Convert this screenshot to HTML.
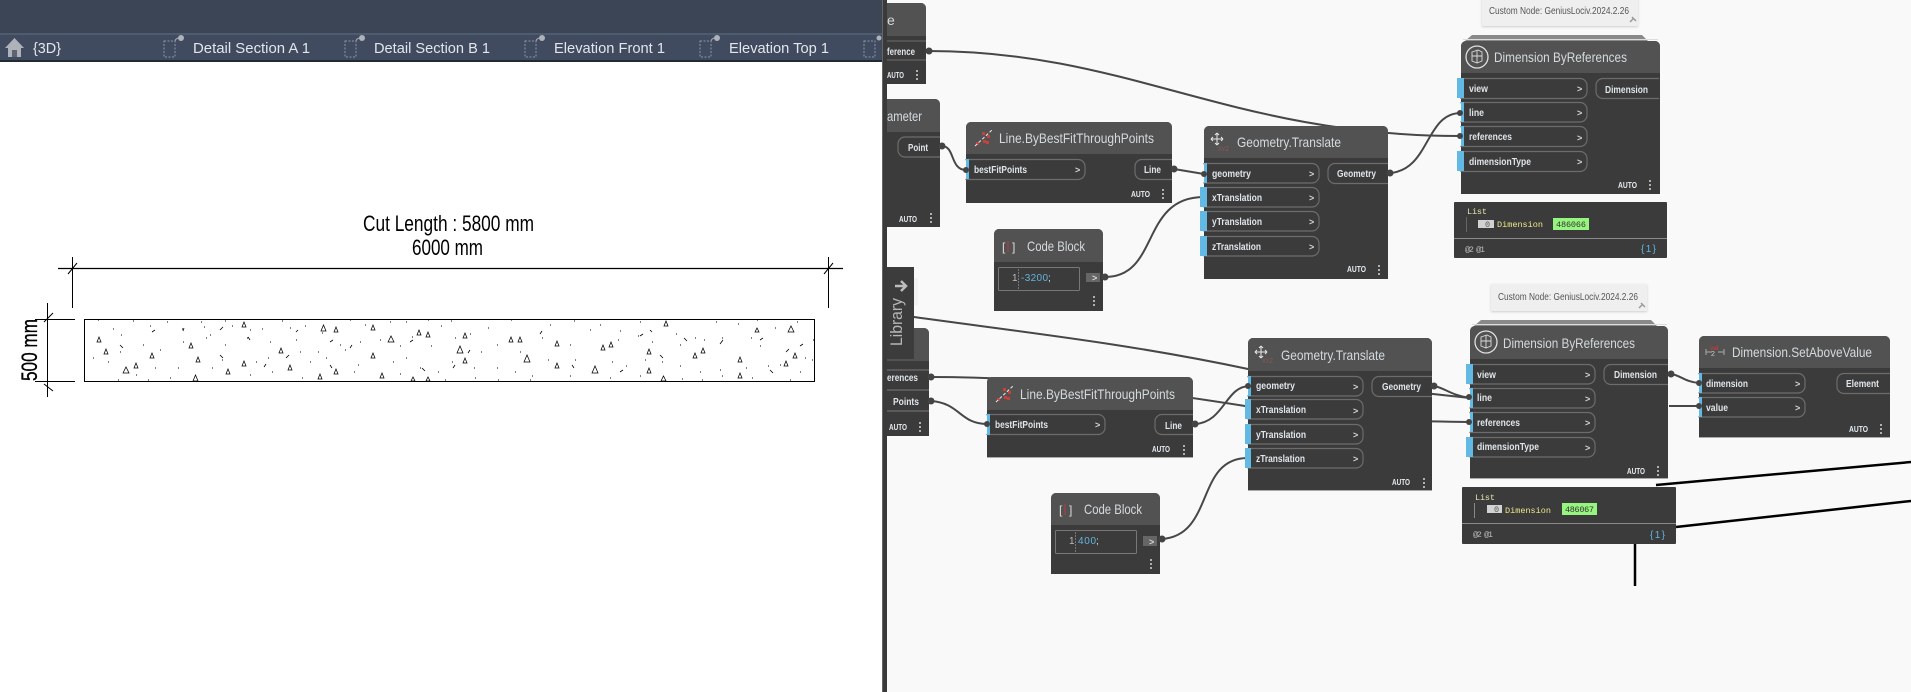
<!DOCTYPE html>
<html><head><meta charset="utf-8"><style>
html,body{margin:0;padding:0;background:#fff;width:1911px;height:692px;overflow:hidden}
svg{display:block}
text{font-family:"Liberation Sans",sans-serif}
.b{fill:#3b3b3b}.h{fill:#525252}
.p{fill:none;stroke:#6c6c6c;stroke-width:1.2}
.bl{fill:#62b9e4}
.t{fill:#d4dade;font-size:14px}
.l{fill:#dfe5ea;font-size:10px;font-weight:bold}
.a{fill:#e6ecf2;font-size:8.5px;font-weight:bold}
.g{fill:#d5d5d5;font-size:9px;font-weight:bold}
.d{fill:#b0b0b0}
.w{fill:none;stroke:#474747;stroke-width:2}
.n{fill:#444}
.m{font-family:"Liberation Mono",monospace;font-size:8.5px}
.tab{fill:#e2e6ec;font-size:15px}
.ti{fill:none;stroke:#8b95a5;stroke-width:1;stroke-dasharray:2 1.5}
</style></head><body>
<svg xmlns="http://www.w3.org/2000/svg" width="1911" height="692" viewBox="0 0 1911 692">
<rect width="1911" height="692" fill="#fff"/>
<rect x="887" width="1024" height="692" fill="#f9f9f9"/>
<!-- left header -->
<rect width="882" height="33" fill="#3b4555"/>
<rect y="33" width="882" height="2" fill="#4f5b6e"/>
<rect y="35" width="882" height="25" fill="#404b5f"/>
<rect y="60" width="882" height="2" fill="#222a35"/>
<polygon points="5,48 14.500,38 24,48 21,48 21,57 8,57 8,48" fill="#aeb3ba"/>
<rect x="12" y="50" width="5" height="7" fill="#5d6470"/>
<text class="tab" x="33" y="53" textLength="28" lengthAdjust="spacingAndGlyphs">{3D}</text>
<g><rect class="ti" x="164" y="41" width="11" height="16"/><circle cx="181" cy="38" r="3" fill="#aeb3ba"/><path d="M175 41 q1 -3 4 -3" stroke="#aeb3ba" fill="none"/></g>
<text class="tab" x="193" y="53" textLength="117" lengthAdjust="spacingAndGlyphs">Detail Section A 1</text>
<g><rect class="ti" x="345" y="41" width="11" height="16"/><circle cx="362" cy="38" r="3" fill="#aeb3ba"/><path d="M356 41 q1 -3 4 -3" stroke="#aeb3ba" fill="none"/></g>
<text class="tab" x="374" y="53" textLength="116" lengthAdjust="spacingAndGlyphs">Detail Section B 1</text>
<g><rect class="ti" x="525" y="41" width="11" height="16"/><circle cx="542" cy="38" r="3" fill="#aeb3ba"/><path d="M536 41 q1 -3 4 -3" stroke="#aeb3ba" fill="none"/></g>
<text class="tab" x="554" y="53" textLength="111" lengthAdjust="spacingAndGlyphs">Elevation Front 1</text>
<g><rect class="ti" x="700" y="41" width="11" height="16"/><circle cx="717" cy="38" r="3" fill="#aeb3ba"/><path d="M711 41 q1 -3 4 -3" stroke="#aeb3ba" fill="none"/></g>
<text class="tab" x="729" y="53" textLength="100" lengthAdjust="spacingAndGlyphs">Elevation Top 1</text>
<g><rect class="ti" x="864" y="41" width="11" height="16"/><circle cx="879" cy="38" r="2.500" fill="#aeb3ba"/></g>
<!-- drawing -->
<text x="363" y="231" font-size="22" fill="#000" textLength="171" lengthAdjust="spacingAndGlyphs">Cut Length : 5800 mm</text>
<text x="412" y="255" font-size="22" fill="#000" textLength="71" lengthAdjust="spacingAndGlyphs">6000 mm</text>
<g stroke="#000" fill="none" stroke-width="1">
<path d="M58 268.500H843" stroke-width="1.300"/>
<path d="M72.500 257V308M828.500 257V308M68 274L77 263M824 274L833 263"/>
<path d="M47.500 303V397M35 319.500H75M35 381.500H75M44 322L53 313M44 384L53 391" />
<rect x="84.500" y="319.500" width="730" height="62"/>
</g>
<text transform="translate(37,381) rotate(-90)" font-size="22" fill="#000" stroke="#000" stroke-width=".3" textLength="62" lengthAdjust="spacingAndGlyphs">500 mm</text>
<!-- hatch triangles -->
<path fill="none" stroke="#000" stroke-width=".75" d="M321 331l2.500 -6l2.500 6zM334 332l2 -5l2 5zM371 330l2 -5l2 5zM417 335l2 -5l2 5zM426 337l2 -5l2 5zM388 342l3 -6l3 6zM463 338l2 -5l2 5zM457 353l3 -7l3 7zM509 342l2 -5l2 5zM518 342l2 -5l2 5zM555 346l2 -5l2 5zM601 350l2 -5l2 5zM609 347l2 -5l2 5zM647 354l2 -5l2 5zM693 358l2 -5l2 5zM701 353l2 -5l2 5zM738 362l2 -5l2 5zM793 358l2 -5l2 5zM784 366l2 -5l2 5zM788 332l3 -6l3 6zM755 332l2 -4l2 4zM664 326l2 -5l2 5zM242 327l2 -5l2 5zM97 342l2 -5l2 5zM104 354l2 -5l2 5zM150 358l2 -5l2 5zM189 348l2 -5l2 5zM196 362l2 -5l2 5zM123 373l3 -6l3 6zM134 368l2 -5l2 5zM242 366l2 -5l2 5zM226 374l2 -5l2 5zM288 370l2 -5l2 5zM279 353l2 -5l2 5zM371 358l2 -5l2 5zM334 374l2 -5l2 5zM318 379l2 -5l2 5zM380 378l2 -5l2 5zM463 363l2 -5l2 5zM524 362l3 -7l3 7zM555 368l2 -5l2 5zM592 373l3 -7l3 7zM647 373l2 -5l2 5zM738 378l2 -5l2 5zM193 381l2.500 -6l2.500 6zM411 381l2 -4l2 4zM426 381l2 -4l2 4zM661 381l2.500 -5l2.500 5z"/>
<!-- hatch dots -->
<path fill="none" stroke="#000" stroke-width="1" d="M98 320h1M113 329h1M121 335h1M133 321h1M150 326h1M167 322h1M182 329h1M201 322h1M204 327h1M210 335h1M225 321h1M232 326h1M250 330h1M262 329h1M282 321h1M290 328h1M305 326h1M322 333h1M350 320h1M365 325h1M390 322h1M406 322h1M412 337h1M428 320h1M441 326h1M451 321h1M470 334h1M488 328h1M511 320h1M550 325h1M574 321h1M600 325h1M620 331h1M640 322h1M676 334h1M695 338h1M716 322h1M738 324h1M757 320h1M775 328h1M797 322h1M813 340h1M805 358h1M780 365h1M760 346h1M751 338h1M722 338h1M704 340h1M680 345h1M652 342h1M638 336h1M618 340h1M590 330h1M570 345h1M542 338h1M520 352h1M497 345h1M481 352h1M455 338h1M431 346h1M400 346h1M380 340h1M360 342h1M340 345h1M318 352h1M296 340h1M270 342h1M247 338h1M225 345h1M206 338h1M183 342h1M160 350h1M143 345h1M120 352h1M93 358h1M108 362h1M136 375h1M155 368h1M178 368h1M212 368h1M222 360h1M256 362h1M268 358h1M300 352h1M310 362h1M326 358h1M345 350h1M358 365h1M393 362h1M406 358h1M420 368h1M438 372h1M452 362h1M474 368h1M497 368h1M515 372h1M532 376h1M548 360h1M575 360h1M612 362h1M626 366h1M645 360h1M662 362h1M680 366h1M700 372h1M720 370h1M746 368h1M768 366h1M800 372h1M812 360h1M118 380h1M148 380h1M170 378h1M250 375h1M272 372h1M302 378h1M354 372h1M400 374h1M445 380h1M475 378h1M498 380h1M530 380h1M570 376h1M610 378h1M640 376h1M682 379h1M702 380h1M722 376h1M752 378h1M790 380h1"/>
<path fill="none" stroke="#000" stroke-width=".8" d="M152 332l3 -2M184 328l-1 3M220 330l3 -3M248 337l2 3M296 332l2 -2M330 342l3 -2M352 345l-2 3M410 342l3 -2M470 350l-2 3M540 334l2 -3M640 336l3 -2M650 330l2 2M684 338l3 3M720 344l3 -4M760 340l3 -2M786 352l3 -3M264 367l2 -3M330 365l2 3M422 368l3 3M455 365l-2 3M572 365l2 3M620 372l3 -2M660 355l3 3M770 370l3 3M800 346l3 -2M120 345l3 3M220 355l3 3M286 358l3 -3"/>
<!-- wires -->
<path class="w" d="M928 51C1130 51 1230 136 1461 136"/>
<path class="w" d="M942 146C955 146 950 170 966 170"/>
<path class="w" d="M1174 169L1204 174"/>
<path class="w" d="M1105 277C1160 277 1140 197 1204 197"/>
<path class="w" d="M1390 173C1430 170 1425 113 1461 113"/>
<path class="w" d="M887 313L914 317C1030 333 1130 344 1248 369C1320 384 1400 390 1433 394L1470 398"/>
<path class="w" d="M931 377C1050 377 1150 391 1245 406C1320 418 1380 421 1470 422"/>
<path class="w" d="M931 401C960 403 960 424 987 424"/>
<path class="w" d="M1195 424C1225 422 1225 386 1250 386"/>
<path class="w" d="M1162 539C1215 535 1195 458 1248 458"/>
<path class="w" d="M1434 386C1445 388 1450 395 1470 398"/>
<path class="w" d="M1671 374C1680 375 1685 382 1699 383"/>
<path class="w" d="M1669 406H1699"/>
<!-- Node A partial -->
<path class="b" d="M885 3h36a5 5 0 0 1 5 5v76h-41z"/><path class="h" d="M885 3h36a5 5 0 0 1 5 5v28h-41z"/>
<text class="t" x="887" y="25">e</text>
<path d="M887 41H926M887 60H926" stroke="#6c6c6c" fill="none"/>
<text class="l" x="887" y="55" textLength="28" lengthAdjust="spacingAndGlyphs">ference</text>
<text class="a" x="887" y="78" textLength="17" lengthAdjust="spacingAndGlyphs">AUTO</text>
<rect class="d" x="916" y="70" width="2" height="2"/><rect class="d" x="916" y="74" width="2" height="2"/><rect class="d" x="916" y="78" width="2" height="2"/>
<circle class="n" cx="929" cy="51" r="3.500"/>
<!-- Node B partial -->
<path class="b" d="M885 99h50a5 5 0 0 1 5 5v123h-55z"/><path class="h" d="M885 99h50a5 5 0 0 1 5 5v28h-55z"/>
<text class="t" x="887" y="121" textLength="35" lengthAdjust="spacingAndGlyphs">ameter</text>
<path class="p" d="M940 137H905a7 7 0 0 0 -7 7v6a7 7 0 0 0 7 7H940"/>
<text class="l" x="908" y="151" textLength="20" lengthAdjust="spacingAndGlyphs">Point</text>
<text class="a" x="899" y="222" textLength="18" lengthAdjust="spacingAndGlyphs">AUTO</text>
<rect class="d" x="930" y="213" width="2" height="2"/><rect class="d" x="930" y="217" width="2" height="2"/><rect class="d" x="930" y="221" width="2" height="2"/>
<circle class="n" cx="942" cy="146" r="3.500"/>
<!-- Line node 1 -->
<path class="b" d="M966 127a5 5 0 0 1 5 -5h196a5 5 0 0 1 5 5v76h-206z"/><path class="h" d="M966 127a5 5 0 0 1 5 -5h196a5 5 0 0 1 5 5v27h-206z"/>
<g fill="#c9403a"><rect x="976" y="142" width="3" height="3"/><rect x="983" y="140" width="3" height="3"/><rect x="987" y="135" width="3" height="3"/><rect x="982" y="132" width="3" height="3"/><rect x="986" y="141" width="3" height="3"/></g><path d="M975 146L992 130" stroke="#eee" stroke-dasharray="3 2"/>
<text class="t" x="999" y="143" textLength="155" lengthAdjust="spacingAndGlyphs">Line.ByBestFitThroughPoints</text>
<rect class="p" x="960" y="159.500" width="125" height="20" rx="7" style="clip-path:inset(-2px -2px -2px 6px)"/><rect class="bl" x="966" y="159" width="3" height="20"/>
<text class="l" x="974" y="173" textLength="53" lengthAdjust="spacingAndGlyphs">bestFitPoints</text><text class="g" x="1075" y="173">&gt;</text>
<path class="p" d="M1172 159.500H1142a7 7 0 0 0 -7 7v6a7 7 0 0 0 7 7H1172"/>
<text class="l" x="1144" y="173" textLength="17" lengthAdjust="spacingAndGlyphs">Line</text>
<text class="a" x="1131" y="197" textLength="19" lengthAdjust="spacingAndGlyphs">AUTO</text>
<rect class="d" x="1162" y="189" width="2" height="2"/><rect class="d" x="1162" y="193" width="2" height="2"/><rect class="d" x="1162" y="197" width="2" height="2"/>
<circle class="n" cx="966" cy="170" r="3"/><circle class="n" cx="1174" cy="169" r="3.500"/>
<!-- Translate 1 -->
<path class="b" d="M1204 131a5 5 0 0 1 5 -5h174a5 5 0 0 1 5 5v148h-184z"/><path class="h" d="M1204 131a5 5 0 0 1 5 -5h174a5 5 0 0 1 5 5v27h-184z"/>
<path d="M1217 133v12M1211 139h12M1217 133l-2 2M1217 133l2 2M1217 145l-2 -2M1217 145l2 -2M1211 139l2 -2M1211 139l2 2M1223 139l-2 -2M1223 139l-2 2" stroke="#e8e8e8" fill="none"/>
<text x="1218" y="151" font-size="6" fill="#8a5a5a" textLength="11">XYZ</text>
<text class="t" x="1237" y="147" textLength="104" lengthAdjust="spacingAndGlyphs">Geometry.Translate</text>
<rect class="p" x="1198" y="163.500" width="121" height="19.500" rx="7" style="clip-path:inset(-2px -2px -2px 6px)"/>
<rect class="p" x="1198" y="187.500" width="121" height="19.500" rx="7" style="clip-path:inset(-2px -2px -2px 6px)"/>
<rect class="p" x="1198" y="211.500" width="121" height="19.500" rx="7" style="clip-path:inset(-2px -2px -2px 6px)"/>
<rect class="p" x="1198" y="236.500" width="121" height="19.500" rx="7" style="clip-path:inset(-2px -2px -2px 6px)"/>
<rect class="bl" x="1204" y="163" width="3" height="20"/><rect class="bl" x="1200" y="187" width="7" height="20"/><rect class="bl" x="1200" y="211" width="7" height="20"/><rect class="bl" x="1200" y="236" width="7" height="20"/>
<text class="l" x="1212" y="177" textLength="39" lengthAdjust="spacingAndGlyphs">geometry</text><text class="g" x="1309" y="177">&gt;</text>
<text class="l" x="1212" y="201" textLength="50" lengthAdjust="spacingAndGlyphs">xTranslation</text><text class="g" x="1309" y="201">&gt;</text>
<text class="l" x="1212" y="225" textLength="50" lengthAdjust="spacingAndGlyphs">yTranslation</text><text class="g" x="1309" y="225">&gt;</text>
<text class="l" x="1212" y="250" textLength="49" lengthAdjust="spacingAndGlyphs">zTranslation</text><text class="g" x="1309" y="250">&gt;</text>
<path class="p" d="M1388 163.500H1335a7 7 0 0 0 -7 7v6a7 7 0 0 0 7 7H1388"/>
<text class="l" x="1337" y="177" textLength="39" lengthAdjust="spacingAndGlyphs">Geometry</text>
<text class="a" x="1347" y="272" textLength="19" lengthAdjust="spacingAndGlyphs">AUTO</text>
<rect class="d" x="1378" y="265" width="2" height="2"/><rect class="d" x="1378" y="269" width="2" height="2"/><rect class="d" x="1378" y="273" width="2" height="2"/>
<circle class="n" cx="1204" cy="174" r="3"/><circle class="n" cx="1390" cy="173" r="3.500"/>
<!-- Code block 1 -->
<path class="b" d="M994 234a5 5 0 0 1 5 -5h99a5 5 0 0 1 5 5v77h-109z"/><path class="h" d="M994 234a5 5 0 0 1 5 -5h99a5 5 0 0 1 5 5v28h-109z"/>
<text x="1002" y="251" font-size="12" fill="#ddd" font-family="Liberation Mono">[</text><text x="1012" y="251" font-size="12" fill="#ddd" font-family="Liberation Mono">]</text><path d="M1008 241v11" stroke="#c03a3a"/>
<text class="t" x="1027" y="251" textLength="58" lengthAdjust="spacingAndGlyphs">Code Block</text>
<rect x="998.500" y="267.500" width="81" height="23" fill="none" stroke="#777" rx="1"/>
<text x="1012" y="281" font-size="10" fill="#bbb" font-family="Liberation Mono">1</text><path d="M1018.500 269V289" stroke="#777" stroke-dasharray="2 1"/>
<text x="1021" y="281" font-size="10" fill="#62b4e0" font-family="Liberation Mono" textLength="27">-3200</text><text x="1048" y="281" font-size="10" fill="#ddd" font-family="Liberation Mono">;</text>
<rect x="1086" y="273" width="14" height="9" fill="#666"/><text class="g" x="1092" y="281" font-size="8">&gt;</text>
<rect class="d" x="1093" y="296" width="2" height="2"/><rect class="d" x="1093" y="300" width="2" height="2"/><rect class="d" x="1093" y="304" width="2" height="2"/>
<circle class="n" cx="1105" cy="277" r="3.500"/>
<!-- Node C partial -->
<path class="b" d="M885 328h39a5 5 0 0 1 5 5v103h-44z"/><path class="h" d="M885 328h39a5 5 0 0 1 5 5v28h-44z"/>
<path class="p" d="M887 370H929M887 390H929M887 411H929"/>
<text class="l" x="887" y="381" textLength="31" lengthAdjust="spacingAndGlyphs">erences</text>
<text class="l" x="893" y="405" textLength="26" lengthAdjust="spacingAndGlyphs">Points</text>
<text class="a" x="889" y="430" textLength="18" lengthAdjust="spacingAndGlyphs">AUTO</text>
<rect class="d" x="919" y="422" width="2" height="2"/><rect class="d" x="919" y="426" width="2" height="2"/><rect class="d" x="919" y="430" width="2" height="2"/>
<circle class="n" cx="931" cy="377" r="3.500"/><circle class="n" cx="931" cy="401" r="3.500"/>
<!-- Line node 2 -->
<path class="b" d="M987 382a5 5 0 0 1 5 -5h196a5 5 0 0 1 5 5v76h-206z"/><path class="h" d="M987 382a5 5 0 0 1 5 -5h196a5 5 0 0 1 5 5v28h-206z"/>
<g fill="#c9403a"><rect x="997" y="398" width="3" height="3"/><rect x="1004" y="396" width="3" height="3"/><rect x="1008" y="391" width="3" height="3"/><rect x="1003" y="388" width="3" height="3"/><rect x="1007" y="397" width="3" height="3"/></g><path d="M996 402L1013 386" stroke="#eee" stroke-dasharray="3 2"/>
<text class="t" x="1020" y="399" textLength="155" lengthAdjust="spacingAndGlyphs">Line.ByBestFitThroughPoints</text>
<rect class="p" x="981" y="414.500" width="124" height="20" rx="7" style="clip-path:inset(-2px -2px -2px 6px)"/><rect class="bl" x="987" y="414" width="3" height="21"/>
<text class="l" x="995" y="428" textLength="53" lengthAdjust="spacingAndGlyphs">bestFitPoints</text><text class="g" x="1095" y="428">&gt;</text>
<path class="p" d="M1193 414.500H1162a7 7 0 0 0 -7 7v6a7 7 0 0 0 7 7H1193"/>
<text class="l" x="1165" y="429" textLength="17" lengthAdjust="spacingAndGlyphs">Line</text>
<text class="a" x="1152" y="452" textLength="18" lengthAdjust="spacingAndGlyphs">AUTO</text>
<rect class="d" x="1183" y="445" width="2" height="2"/><rect class="d" x="1183" y="449" width="2" height="2"/><rect class="d" x="1183" y="453" width="2" height="2"/>
<rect x="987" y="457" width="206" height="1" fill="#aaa"/>
<circle class="n" cx="987" cy="424" r="3"/><circle class="n" cx="1195" cy="424" r="3.500"/>
<!-- Translate 2 -->
<path class="b" d="M1248 343a5 5 0 0 1 5 -5h174a5 5 0 0 1 5 5v148h-184z"/><path class="h" d="M1248 343a5 5 0 0 1 5 -5h174a5 5 0 0 1 5 5v28h-184z"/>
<path d="M1261 346v12M1255 352h12M1261 346l-2 2M1261 346l2 2M1261 358l-2 -2M1261 358l2 -2M1255 352l2 -2M1255 352l2 2M1267 352l-2 -2M1267 352l-2 2" stroke="#e8e8e8" fill="none"/>
<text x="1262" y="363" font-size="6" fill="#8a5a5a" textLength="11">XYZ</text>
<text class="t" x="1281" y="360" textLength="104" lengthAdjust="spacingAndGlyphs">Geometry.Translate</text>
<rect class="p" x="1242" y="376.500" width="121" height="19.500" rx="7" style="clip-path:inset(-2px -2px -2px 6px)"/>
<rect class="p" x="1242" y="399.500" width="121" height="19.500" rx="7" style="clip-path:inset(-2px -2px -2px 6px)"/>
<rect class="p" x="1242" y="424.500" width="121" height="19.500" rx="7" style="clip-path:inset(-2px -2px -2px 6px)"/>
<rect class="p" x="1242" y="448.500" width="121" height="19.500" rx="7" style="clip-path:inset(-2px -2px -2px 6px)"/>
<rect class="bl" x="1248" y="376" width="3" height="20"/><rect class="bl" x="1245" y="399" width="6" height="20"/><rect class="bl" x="1245" y="424" width="6" height="20"/><rect class="bl" x="1245" y="448" width="6" height="20"/>
<text class="l" x="1256" y="389" textLength="39" lengthAdjust="spacingAndGlyphs">geometry</text><text class="g" x="1353" y="390">&gt;</text>
<text class="l" x="1256" y="413" textLength="50" lengthAdjust="spacingAndGlyphs">xTranslation</text><text class="g" x="1353" y="414">&gt;</text>
<text class="l" x="1256" y="438" textLength="50" lengthAdjust="spacingAndGlyphs">yTranslation</text><text class="g" x="1353" y="438">&gt;</text>
<text class="l" x="1256" y="462" textLength="49" lengthAdjust="spacingAndGlyphs">zTranslation</text><text class="g" x="1353" y="462">&gt;</text>
<path class="p" d="M1432 376.500H1379a7 7 0 0 0 -7 7v6a7 7 0 0 0 7 7H1432"/>
<text class="l" x="1382" y="390" textLength="39" lengthAdjust="spacingAndGlyphs">Geometry</text>
<text class="a" x="1392" y="485" textLength="18" lengthAdjust="spacingAndGlyphs">AUTO</text>
<rect class="d" x="1423" y="478" width="2" height="2"/><rect class="d" x="1423" y="482" width="2" height="2"/><rect class="d" x="1423" y="486" width="2" height="2"/>
<rect x="1248" y="490" width="184" height="1" fill="#aaa"/>
<circle class="n" cx="1248" cy="386" r="3"/><circle class="n" cx="1434" cy="386" r="3.500"/>
<!-- Code block 2 -->
<path class="b" d="M1051 498a5 5 0 0 1 5 -5h99a5 5 0 0 1 5 5v76h-109z"/><path class="h" d="M1051 498a5 5 0 0 1 5 -5h99a5 5 0 0 1 5 5v27h-109z"/>
<text x="1059" y="514" font-size="12" fill="#ddd" font-family="Liberation Mono">[</text><text x="1069" y="514" font-size="12" fill="#ddd" font-family="Liberation Mono">]</text><path d="M1065 504v11" stroke="#c03a3a"/>
<text class="t" x="1084" y="514" textLength="58" lengthAdjust="spacingAndGlyphs">Code Block</text>
<rect x="1055.500" y="530.500" width="81" height="23" fill="none" stroke="#777" rx="1"/>
<text x="1069" y="544" font-size="10" fill="#bbb" font-family="Liberation Mono">1</text><path d="M1075.500 532V552" stroke="#777" stroke-dasharray="2 1"/>
<text x="1078" y="544" font-size="10" fill="#62b4e0" font-family="Liberation Mono" textLength="18">400</text><text x="1096" y="544" font-size="10" fill="#ddd" font-family="Liberation Mono">;</text>
<rect x="1143" y="536" width="14" height="10" fill="#666"/><text class="g" x="1149" y="545" font-size="8">&gt;</text>
<rect class="d" x="1150" y="559" width="2" height="2"/><rect class="d" x="1150" y="563" width="2" height="2"/><rect class="d" x="1150" y="567" width="2" height="2"/>
<circle class="n" cx="1162" cy="539" r="3.500"/>
<!-- Note 1 -->
<rect x="1482" y="-4" width="156" height="30" fill="#efefef" style="filter:drop-shadow(0 1px 1px #ccc)"/>
<text x="1489" y="14" font-size="10" fill="#555" textLength="140" lengthAdjust="spacingAndGlyphs">Custom Node: GeniusLociv.2024.2.26</text>
<path d="M1630 22l4 -4M1632 17l4 4" stroke="#999" stroke-width="1.500"/>
<!-- Note 2 -->
<rect x="1491" y="284" width="156" height="27" fill="#efefef" style="filter:drop-shadow(0 1px 1px #ccc)"/>
<text x="1498" y="300" font-size="10" fill="#555" textLength="140" lengthAdjust="spacingAndGlyphs">Custom Node: GeniusLociv.2024.2.26</text>
<path d="M1639 308l4 -4M1641 303l4 4" stroke="#999" stroke-width="1.500"/>
<!-- Dimension 1 -->
<path d="M1465 41l7 -6h170l6 6z" fill="#8a8a8a"/><rect x="1463" y="39" width="195" height="1" fill="#ddd"/>
<path class="b" d="M1461 46a5 5 0 0 1 5 -5h189a5 5 0 0 1 5 5v148h-199z"/><path class="h" d="M1461 46a5 5 0 0 1 5 -5h189a5 5 0 0 1 5 5v27h-199z"/>
<circle cx="1477" cy="57" r="11" fill="none" stroke="#e0e0e0" stroke-width="1.300"/><path d="M1472 52l6 -2 4 2v9l-5 2 -5 -2zM1477 50v13M1472 56h10" fill="none" stroke="#ddd" stroke-width=".9"/>
<text class="t" x="1494" y="62" textLength="133" lengthAdjust="spacingAndGlyphs">Dimension ByReferences</text>
<rect class="p" x="1455" y="78.500" width="132" height="20" rx="7" style="clip-path:inset(-2px -2px -2px 6px)"/>
<rect class="p" x="1455" y="102.500" width="132" height="19.500" rx="7" style="clip-path:inset(-2px -2px -2px 6px)"/>
<rect class="p" x="1455" y="126.500" width="132" height="20" rx="7" style="clip-path:inset(-2px -2px -2px 6px)"/>
<rect class="p" x="1455" y="151.500" width="132" height="20" rx="7" style="clip-path:inset(-2px -2px -2px 6px)"/>
<rect class="bl" x="1457" y="78" width="7" height="20"/><rect class="bl" x="1461" y="102" width="3" height="20"/><rect class="bl" x="1461" y="126" width="3" height="20"/><rect class="bl" x="1457" y="151" width="7" height="20"/>
<text class="l" x="1469" y="92" textLength="19" lengthAdjust="spacingAndGlyphs">view</text><text class="g" x="1577" y="92">&gt;</text>
<text class="l" x="1469" y="116" textLength="15" lengthAdjust="spacingAndGlyphs">line</text><text class="g" x="1577" y="116">&gt;</text>
<text class="l" x="1469" y="140" textLength="43" lengthAdjust="spacingAndGlyphs">references</text><text class="g" x="1577" y="141">&gt;</text>
<text class="l" x="1469" y="165" textLength="62" lengthAdjust="spacingAndGlyphs">dimensionType</text><text class="g" x="1577" y="165">&gt;</text>
<path class="p" d="M1659 78.500H1603a7 7 0 0 0 -7 7v6a7 7 0 0 0 7 7H1659"/>
<text class="l" x="1605" y="93" textLength="43" lengthAdjust="spacingAndGlyphs">Dimension</text>
<text class="a" x="1618" y="188" textLength="19" lengthAdjust="spacingAndGlyphs">AUTO</text>
<rect class="d" x="1649" y="180" width="2" height="2"/><rect class="d" x="1649" y="184" width="2" height="2"/><rect class="d" x="1649" y="188" width="2" height="2"/>
<circle class="n" cx="1460" cy="113" r="3"/><circle class="n" cx="1460" cy="136" r="3"/>
<!-- Watch 1 -->
<rect x="1454" y="202" width="213" height="56" rx="1" fill="#3b3b3b"/>
<rect x="1454" y="238" width="213" height="1" fill="#8a8a8a"/>
<text class="m" x="1467" y="214" fill="#e8e2b0" textLength="20">List</text>
<path d="M1466.500 217V232" stroke="#666"/>
<rect x="1478" y="220" width="16" height="8" fill="#d2d2d2"/><text class="m" x="1485" y="227" fill="#555" font-size="7">0</text>
<text class="m" x="1497" y="227" fill="#efe98a" textLength="46">Dimension</text>
<rect x="1553" y="218" width="36" height="12" fill="#96f57e"/><text class="m" x="1556" y="227" fill="#333" textLength="30" font-size="8.500">486066</text>
<text class="m" x="1465" y="252" fill="#bbb" font-size="7" textLength="20">@2 @1</text>
<text x="1641" y="252" font-size="10" fill="#62b4e0" font-family="Liberation Mono" textLength="15">{1}</text>
<!-- Dimension 2 -->
<path d="M1474 326l7 -6h170l6 6z" fill="#8a8a8a"/><rect x="1472" y="324" width="195" height="1" fill="#ddd"/>
<path class="b" d="M1470 331a5 5 0 0 1 5 -5h188a5 5 0 0 1 5 5v148h-198z"/><path class="h" d="M1470 331a5 5 0 0 1 5 -5h188a5 5 0 0 1 5 5v28h-198z"/>
<circle cx="1486" cy="342" r="11" fill="none" stroke="#e0e0e0" stroke-width="1.300"/><path d="M1481 337l6 -2 4 2v9l-5 2 -5 -2zM1486 335v13M1481 341h10" fill="none" stroke="#ddd" stroke-width=".9"/>
<text class="t" x="1503" y="348" textLength="132" lengthAdjust="spacingAndGlyphs">Dimension ByReferences</text>
<rect class="p" x="1464" y="364.500" width="131" height="19.500" rx="7" style="clip-path:inset(-2px -2px -2px 6px)"/>
<rect class="p" x="1464" y="388.500" width="131" height="19.500" rx="7" style="clip-path:inset(-2px -2px -2px 6px)"/>
<rect class="p" x="1464" y="412.500" width="131" height="20" rx="7" style="clip-path:inset(-2px -2px -2px 6px)"/>
<rect class="p" x="1464" y="437.500" width="131" height="19.500" rx="7" style="clip-path:inset(-2px -2px -2px 6px)"/>
<rect class="bl" x="1466" y="364" width="7" height="20"/><rect class="bl" x="1470" y="388" width="3" height="20"/><rect class="bl" x="1470" y="412" width="3" height="20"/><rect class="bl" x="1466" y="437" width="7" height="20"/>
<text class="l" x="1477" y="378" textLength="19" lengthAdjust="spacingAndGlyphs">view</text><text class="g" x="1585" y="378">&gt;</text>
<text class="l" x="1477" y="401" textLength="15" lengthAdjust="spacingAndGlyphs">line</text><text class="g" x="1585" y="402">&gt;</text>
<text class="l" x="1477" y="426" textLength="43" lengthAdjust="spacingAndGlyphs">references</text><text class="g" x="1585" y="426">&gt;</text>
<text class="l" x="1477" y="450" textLength="62" lengthAdjust="spacingAndGlyphs">dimensionType</text><text class="g" x="1585" y="451">&gt;</text>
<path class="p" d="M1668 364.500H1611a7 7 0 0 0 -7 7v6a7 7 0 0 0 7 7H1668"/>
<text class="l" x="1614" y="378" textLength="43" lengthAdjust="spacingAndGlyphs">Dimension</text>
<text class="a" x="1627" y="474" textLength="18" lengthAdjust="spacingAndGlyphs">AUTO</text>
<rect class="d" x="1657" y="466" width="2" height="2"/><rect class="d" x="1657" y="470" width="2" height="2"/><rect class="d" x="1657" y="474" width="2" height="2"/>
<rect x="1470" y="478" width="198" height="1" fill="#aaa"/>
<circle class="n" cx="1469" cy="397" r="3"/><circle class="n" cx="1469" cy="422" r="3"/><circle class="n" cx="1671" cy="374" r="3.500"/>
<!-- Watch 2 -->
<rect x="1462" y="487" width="214" height="57" rx="1" fill="#3b3b3b"/>
<rect x="1462" y="523" width="214" height="1" fill="#8a8a8a"/>
<text class="m" x="1475" y="500" fill="#e8e2b0" textLength="20">List</text>
<path d="M1474.500 503V518" stroke="#888"/>
<rect x="1487" y="505" width="15" height="8" fill="#d2d2d2"/><text class="m" x="1494" y="512" fill="#555" font-size="7">0</text>
<text class="m" x="1505" y="513" fill="#efe98a" textLength="46">Dimension</text>
<rect x="1562" y="503" width="35" height="12" fill="#96f57e"/><text class="m" x="1565" y="512" fill="#333" textLength="29" font-size="8.500">486067</text>
<text class="m" x="1473" y="537" fill="#bbb" font-size="7" textLength="20">@2 @1</text>
<text x="1650" y="538" font-size="10" fill="#62b4e0" font-family="Liberation Mono" textLength="15">{1}</text>
<!-- SetAboveValue -->
<path class="b" d="M1699 341a5 5 0 0 1 5 -5h181a5 5 0 0 1 5 5v97h-191z"/><path class="h" d="M1699 341a5 5 0 0 1 5 -5h181a5 5 0 0 1 5 5v27h-191z"/>
<path d="M1706 352h6M1718 352h6M1706 349v6M1724 349v6" stroke="#aaa" fill="none"/><text x="1711" y="356" font-size="7" fill="#ccc">2</text><text x="1710" y="350" font-size="6" fill="#c03a3a" font-weight="bold">val</text>
<text class="t" x="1732" y="357" textLength="140" lengthAdjust="spacingAndGlyphs">Dimension.SetAboveValue</text>
<rect class="p" x="1693" y="373.500" width="112" height="19.500" rx="7" style="clip-path:inset(-2px -2px -2px 6px)"/>
<rect class="p" x="1693" y="397.500" width="112" height="19.500" rx="7" style="clip-path:inset(-2px -2px -2px 6px)"/>
<rect class="bl" x="1699" y="373" width="3" height="20"/><rect class="bl" x="1699" y="397" width="3" height="20"/>
<text class="l" x="1706" y="387" textLength="42" lengthAdjust="spacingAndGlyphs">dimension</text><text class="g" x="1795" y="387">&gt;</text>
<text class="l" x="1706" y="411" textLength="22" lengthAdjust="spacingAndGlyphs">value</text><text class="g" x="1795" y="411">&gt;</text>
<path class="p" d="M1890 373.500H1844a7 7 0 0 0 -7 7v6a7 7 0 0 0 7 7H1890"/>
<text class="l" x="1846" y="387" textLength="33" lengthAdjust="spacingAndGlyphs">Element</text>
<text class="a" x="1849" y="432" textLength="19" lengthAdjust="spacingAndGlyphs">AUTO</text>
<rect class="d" x="1880" y="424" width="2" height="2"/><rect class="d" x="1880" y="428" width="2" height="2"/><rect class="d" x="1880" y="432" width="2" height="2"/>
<rect x="1699" y="437" width="191" height="1" fill="#aaa"/>
<circle class="n" cx="1699" cy="383" r="3"/><circle class="n" cx="1699" cy="406" r="3"/>
<!-- black annotation lines -->
<g stroke="#000" stroke-width="2.500" fill="none"><path d="M1656 485L1911 462"/><path d="M1676 527L1911 501"/><path d="M1635 544V586"/></g>
<!-- divider & library -->
<rect x="914" y="278" width="4" height="27" fill="#f2f2f2"/>
<rect x="887" y="267" width="27" height="92" fill="#3c3c3c"/>
<path d="M895 286h10M901 281l5 5 -5 5" fill="none" stroke="#bdbdbd" stroke-width="2.500"/>
<text transform="translate(902,346) rotate(-90)" font-size="17" fill="#b5b5b5" textLength="48" lengthAdjust="spacingAndGlyphs">Library</text>
<rect x="882" y="0" width="5" height="692" fill="#3a3a3a"/>
<rect x="882" y="0" width="1" height="692" fill="#666"/>
</svg>
</body></html>
